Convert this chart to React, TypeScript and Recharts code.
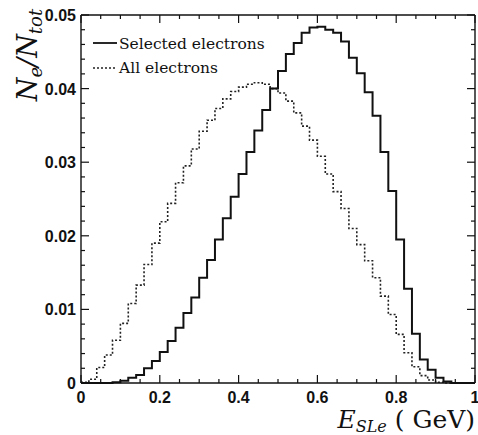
import { LineChart, Line, XAxis, YAxis } from "recharts";

// bin left edges (GeV), last entry closes the final bin
const binEdges = [
  0, 0.02, 0.04, 0.06, 0.08, 0.1, 0.12, 0.14, 0.16, 0.18, 0.2, 0.22, 0.24, 0.26,
  0.28, 0.3, 0.32, 0.34, 0.36, 0.38, 0.4, 0.42, 0.44, 0.46, 0.48, 0.5, 0.52,
  0.54, 0.56, 0.58, 0.6, 0.62, 0.64, 0.66, 0.68, 0.7, 0.72, 0.74, 0.76, 0.78,
  0.8, 0.82, 0.84, 0.86, 0.88, 0.9, 0.92, 0.94, 0.96, 0.98, 1,
];

// solid histogram
const selectedElectrons = [
  0, 0, 0, 0, 0.0001, 0.0003, 0.0007, 0.0011, 0.002, 0.003, 0.0042, 0.0057,
  0.0075, 0.0095, 0.0116, 0.0143, 0.0167, 0.0195, 0.0224, 0.0253, 0.0284,
  0.0314, 0.0343, 0.0371, 0.04, 0.0424, 0.0447, 0.0462, 0.0476, 0.0483, 0.0484,
  0.048, 0.0476, 0.0464, 0.0442, 0.0421, 0.0395, 0.0363, 0.0314, 0.0261,
  0.0195, 0.0128, 0.0067, 0.0032, 0.0018, 0.0007, 0.0002, 0, 0, 0, 0,
];

// dotted histogram
const allElectrons = [
  0.0001, 0.0005, 0.0021, 0.0038, 0.0058, 0.0081, 0.0108, 0.0133, 0.0161,
  0.019, 0.0219, 0.0244, 0.0272, 0.0295, 0.0318, 0.0342, 0.0357, 0.0373,
  0.0386, 0.0396, 0.0402, 0.0406, 0.0408, 0.0406, 0.04, 0.0394, 0.0383, 0.0367,
  0.0349, 0.033, 0.0308, 0.0284, 0.026, 0.0237, 0.021, 0.0188, 0.0166, 0.0143,
  0.0118, 0.0093, 0.0066, 0.0041, 0.0022, 0.001, 0.0004, 0.0001, 0, 0, 0, 0, 0,
];

const xTicks = [
  0, 0.05, 0.1, 0.15, 0.2, 0.25, 0.3, 0.35, 0.4, 0.45, 0.5, 0.55, 0.6, 0.65,
  0.7, 0.75, 0.8, 0.85, 0.9, 0.95, 1,
];
const xMajor = [0, 0.2, 0.4, 0.6, 0.8, 1];

const yTicks = [
  0, 0.002, 0.004, 0.006, 0.008, 0.01, 0.012, 0.014, 0.016, 0.018, 0.02, 0.022,
  0.024, 0.026, 0.028, 0.03, 0.032, 0.034, 0.036, 0.038, 0.04, 0.042, 0.044,
  0.046, 0.048, 0.05,
];
const yMajor = [0, 0.01, 0.02, 0.03, 0.04, 0.05];

const data = binEdges.map((e, i) => ({
  e,
  selected: selectedElectrons[i],
  all: allElectrons[i],
}));

const tickFont = "'Liberation Sans', Arial, sans-serif";
const serif = "'DejaVu Serif', serif";
const ink = "#111";

const isMajor = (list: number[], v: number) =>
  list.some((m) => Math.abs(m - v) < 1e-9);

const fmt = (v: number) =>
  v === 0 ? "0" : v === 1 ? "1" : v < 0.1 ? v.toFixed(2) : v.toFixed(1);

function BottomTick(props: any) {
  const { x, y, payload } = props;
  const major = isMajor(xMajor, payload.value);
  return (
    <g>
      <line x1={x} y1={y} x2={x} y2={y - (major ? 8 : 4)} stroke={ink} strokeWidth={1.2} />
      {major && (
        <text x={x} y={y + 20} textAnchor="middle" fontFamily={tickFont} fontSize={16} fontWeight="bold" fill={ink}>
          {fmt(payload.value)}
        </text>
      )}
    </g>
  );
}

function TopTick(props: any) {
  const { x, y, payload } = props;
  const major = isMajor(xMajor, payload.value);
  return <line x1={x} y1={y} x2={x} y2={y + (major ? 8 : 4)} stroke={ink} strokeWidth={1.2} />;
}

function LeftTick(props: any) {
  const { x, y, payload } = props;
  const major = isMajor(yMajor, payload.value);
  return (
    <g>
      <line x1={x} y1={y} x2={x + (major ? 8 : 4)} y2={y} stroke={ink} strokeWidth={1.2} />
      {major && (
        <text x={x - 5} y={y + 6} textAnchor="end" fontFamily={tickFont} fontSize={16} fontWeight="bold" fill={ink}>
          {fmt(payload.value)}
        </text>
      )}
    </g>
  );
}

function RightTick(props: any) {
  const { x, y, payload } = props;
  const major = isMajor(yMajor, payload.value);
  return <line x1={x} y1={y} x2={x - (major ? 8 : 4)} y2={y} stroke={ink} strokeWidth={1.2} />;
}

export default function App() {
  return (
    <div style={{ position: "absolute", left: 8, top: 8, width: 470, height: 427 }}>
      <style>{"html,body{overflow:hidden;margin:0}"}</style>
      <LineChart
        width={470}
        height={427}
        data={data}
        margin={{ top: 6, right: 2, left: 0, bottom: 22 }}
        style={{ background: "#fff", overflow: "visible" }}
      >
        <XAxis
          dataKey="e"
          type="number"
          domain={[0, 1]}
          ticks={xTicks}
          interval={0}
          height={30}
          tickSize={0}
          tickMargin={0}
          tickLine={false}
          tick={<BottomTick />}
          axisLine={{ stroke: ink, strokeWidth: 1.4 }}
        />
        <XAxis
          xAxisId="top"
          orientation="top"
          dataKey="e"
          type="number"
          domain={[0, 1]}
          ticks={xTicks}
          interval={0}
          height={1}
          tickSize={0}
          tickMargin={0}
          tickLine={false}
          tick={<TopTick />}
          axisLine={{ stroke: ink, strokeWidth: 1.4 }}
        />
        <YAxis
          type="number"
          domain={[0, 0.05]}
          ticks={yTicks}
          interval={0}
          width={73}
          tickSize={0}
          tickMargin={0}
          tickLine={false}
          tick={<LeftTick />}
          axisLine={{ stroke: ink, strokeWidth: 1.4 }}
        />
        <YAxis
          yAxisId="right"
          orientation="right"
          type="number"
          domain={[0, 0.05]}
          ticks={yTicks}
          interval={0}
          width={1}
          tickSize={0}
          tickMargin={0}
          tickLine={false}
          tick={<RightTick />}
          axisLine={{ stroke: ink, strokeWidth: 1.4 }}
        />
        {/* invisible series so the mirrored frame axes get a domain */}
        <Line
          xAxisId="top"
          yAxisId="right"
          dataKey="all"
          type="stepAfter"
          stroke="none"
          dot={false}
          activeDot={false}
          isAnimationActive={false}
        />
        <Line
          dataKey="all"
          type="stepAfter"
          stroke="#222"
          strokeWidth={1.6}
          strokeDasharray="2 2"
          dot={false}
          isAnimationActive={false}
        />
        <Line
          dataKey="selected"
          type="stepAfter"
          stroke={ink}
          strokeWidth={2}
          dot={false}
          isAnimationActive={false}
        />

        {/* legend */}
        <g>
          <line x1={85} y1={35} x2={109} y2={35} stroke={ink} strokeWidth={1.8} />
          <text x={111} y={41} fontFamily={serif} fontSize={15.5} fill={ink}>
            Selected electrons
          </text>
          <line x1={85} y1={60} x2={109} y2={60} stroke="#222" strokeWidth={1.6} strokeDasharray="2 2" />
          <text x={111} y={65} fontFamily={serif} fontSize={15.5} fill={ink}>
            All electrons
          </text>
        </g>

        {/* axis titles */}
        <text
          transform="translate(29, 47) rotate(-90)"
          textAnchor="middle"
          fontFamily={serif}
          fontStyle="italic"
          fontSize={27}
          fill={ink}
        >
          N<tspan fontSize={18} dy={5}>e</tspan>
          <tspan dy={-5}>/N</tspan>
          <tspan fontSize={18} dy={5}>tot</tspan>
        </text>
        <text x={467} y={420} textAnchor="end" fontFamily={serif} fontSize={25} fill={ink}>
          <tspan fontStyle="italic">E</tspan>
          <tspan fontStyle="italic" fontSize={16} dy={4}>SLe</tspan>
          <tspan dy={-4}>{"\u00a0(\u00a0GeV)"}</tspan>
        </text>
      </LineChart>
    </div>
  );
}
